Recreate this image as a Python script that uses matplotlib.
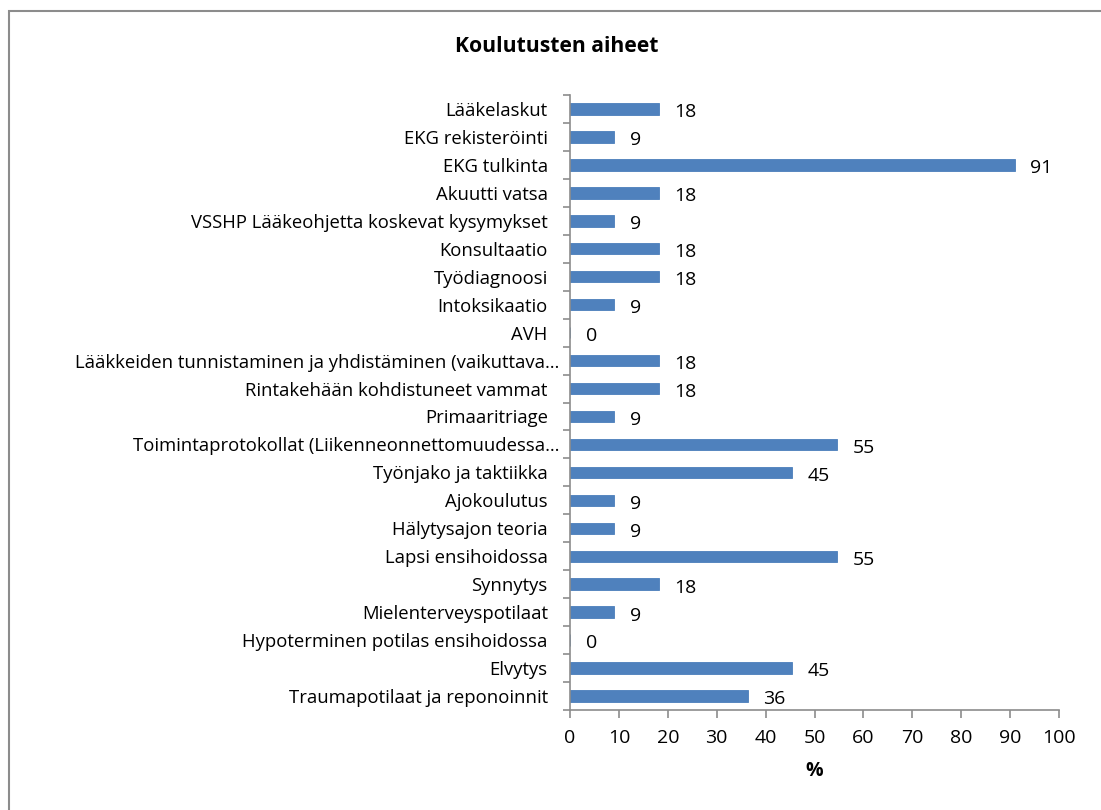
import matplotlib
matplotlib.use("Agg")
import matplotlib.pyplot as plt
from matplotlib.patches import Rectangle
from matplotlib.ticker import FixedLocator
from matplotlib.transforms import ScaledTranslation

categories = [
    "Lääkelaskut",
    "EKG rekisteröinti",
    "EKG tulkinta",
    "Akuutti vatsa",
    "VSSHP Lääkeohjetta koskevat kysymykset",
    "Konsultaatio",
    "Työdiagnoosi",
    "Intoksikaatio",
    "AVH",
    "Lääkkeiden tunnistaminen ja yhdistäminen (vaikuttava…",
    "Rintakehään kohdistuneet vammat",
    "Primaaritriage",
    "Toimintaprotokollat (Liikenneonnettomuudessa…",
    "Työnjako ja taktiikka",
    "Ajokoulutus",
    "Hälytysajon teoria",
    "Lapsi ensihoidossa",
    "Synnytys",
    "Mielenterveyspotilaat",
    "Hypoterminen potilas ensihoidossa",
    "Elvytys",
    "Traumapotilaat ja reponoinnit",
]
values = [18.18, 9.09, 90.91, 18.18, 9.09, 18.18, 18.18, 9.09, 0.0, 18.18, 18.18, 9.09,
          54.55, 45.45, 9.09, 9.09, 54.55, 18.18, 9.09, 0.0, 45.45, 36.36]
xticks = [0, 10, 20, 30, 40, 50, 60, 70, 80, 90, 100]

plt.rcParams['font.family'] = ['Open Sans', 'DejaVu Sans']
FS_CAT = 13.3
FS = 14

W, H = 1101, 810
fig = plt.figure(figsize=(W / 100, H / 100), dpi=100)
fig.patch.set_facecolor('white')

# outer chart border
fig.add_artist(Rectangle((9 / W, -0.1), 1.2, 1 - 11 / H + 0.1,
                         transform=fig.transFigure, fill=False,
                         edgecolor='#8c8c8c', linewidth=1.5))

ax = fig.add_axes([570 / W, 1 - 710 / H, (1059 - 570) / W, (710 - 95) / H])
n = len(categories)
ypos = list(range(n))
ax.barh(ypos, values, height=0.41, color='#4F81BD', edgecolor='#4A7EBB', linewidth=0.6)
ax.set_ylim(n - 0.5, -0.5)
ax.set_xlim(0, 100)

for y, v in zip(ypos, values):
    ax.text(v + 3.2, y + 0.12, f"{v:.0f}", va='center', ha='left', fontsize=FS, color='black')

ax.set_yticks(ypos)
ax.set_yticklabels(categories, fontsize=FS_CAT)
ax.yaxis.set_minor_locator(FixedLocator([i - 0.5 for i in range(n + 1)]))
ax.tick_params(axis='y', which='major', length=0, pad=16)
ax.tick_params(axis='y', which='minor', length=5, color='#8c8c8c', width=1.2)
# truncated labels (with ellipsis) sit closer to the axis
for lbl in ax.get_yticklabels():
    if lbl.get_text().endswith('…'):
        lbl.set_transform(lbl.get_transform() + ScaledTranslation(12 / 100, 0, fig.dpi_scale_trans))

ax.set_xticks(xticks)
ax.set_xticklabels([str(t) for t in xticks], fontsize=FS)
ax.tick_params(axis='x', length=6, color='#8c8c8c', width=1.2, pad=8)

for s in ['top', 'right']:
    ax.spines[s].set_visible(False)
for s in ['left', 'bottom']:
    ax.spines[s].set_color('#8c8c8c')
    ax.spines[s].set_linewidth(1.2)

ax.set_xlabel('%', fontsize=FS, fontweight='bold', labelpad=10)
fig.text(557 / W, 1 - 47 / H, 'Koulutusten aiheet', ha='center', va='center',
         fontsize=15.2, fontweight='bold')

fig.savefig('out.png', dpi=100, facecolor='white')
